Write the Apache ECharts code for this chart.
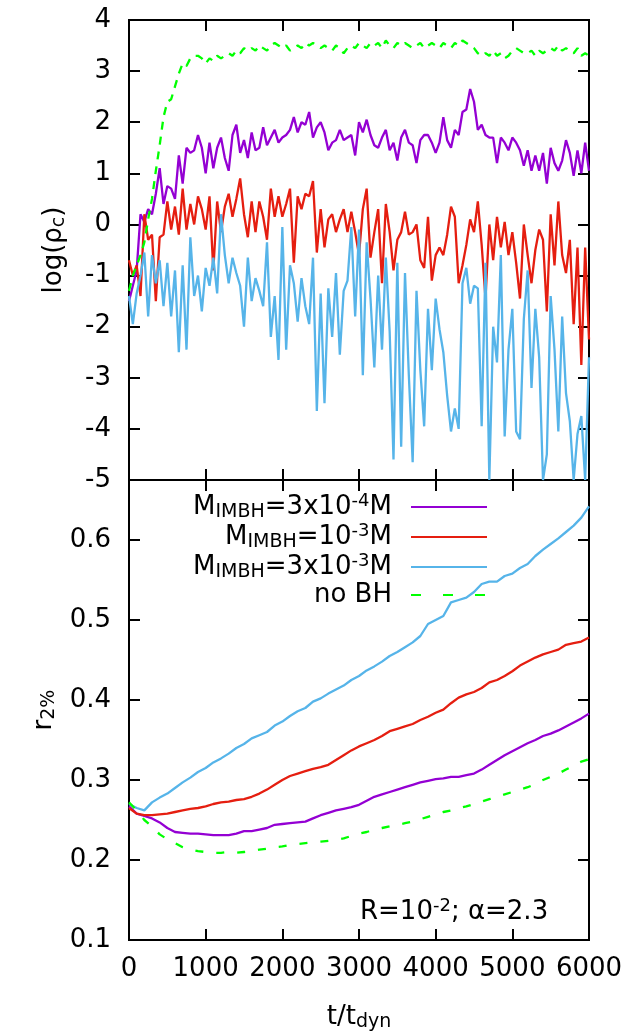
<!DOCTYPE html>
<html>
<head>
<meta charset="utf-8">
<script src="https://cdn.jsdelivr.net/npm/echarts@6/dist/echarts.min.js"></script>
<style>
  html, body { margin: 0; padding: 0; background: #fff; }
  #chart { width: 629px; height: 1033px; }
</style>
</head>
<body>
<div id="chart"></div>
<script>
// time samples (t / t_dyn)
const tTop = [
  0, 50, 100, 150, 200, 250, 300, 350, 400, 450,
  500, 550, 600, 650, 700, 750, 800, 850, 900, 950,
  1000, 1050, 1100, 1150, 1200, 1250, 1300, 1350, 1400, 1450,
  1500, 1550, 1600, 1650, 1700, 1750, 1800, 1850, 1900, 1950,
  2000, 2050, 2100, 2150, 2200, 2250, 2300, 2350, 2400, 2450,
  2500, 2550, 2600, 2650, 2700, 2750, 2800, 2850, 2900, 2950,
  3000, 3050, 3100, 3150, 3200, 3250, 3300, 3350, 3400, 3450,
  3500, 3550, 3600, 3650, 3700, 3750, 3800, 3850, 3900, 3950,
  4000, 4050, 4100, 4150, 4200, 4250, 4300, 4350, 4400, 4450,
  4500, 4550, 4600, 4650, 4700, 4750, 4800, 4850, 4900, 4950,
  5000, 5050, 5100, 5150, 5200, 5250, 5300, 5350, 5400, 5450,
  5500, 5550, 5600, 5650, 5700, 5750, 5800, 5850, 5900, 5950,
  6000
];
const tBot = [
  0, 100, 200, 300, 400, 500, 600, 700, 800, 900,
  1000, 1100, 1200, 1300, 1400, 1500, 1600, 1700, 1800, 1900,
  2000, 2100, 2200, 2300, 2400, 2500, 2600, 2700, 2800, 2900,
  3000, 3100, 3200, 3300, 3400, 3500, 3600, 3700, 3800, 3900,
  4000, 4100, 4200, 4300, 4400, 4500, 4600, 4700, 4800, 4900,
  5000, 5100, 5200, 5300, 5400, 5500, 5600, 5700, 5800, 5900,
  6000
];

// log(rho_c), top panel
const rhoM3e4 = [
  -1.5, -1.2, -0.9, 0.2, 0.05, 0.3, 0.2, 0.6, 1.1, 0.4,
  0.75, 0.7, 0.5, 1.35, 0.8, 1.5, 1.4, 1.45, 1.75, 1.5,
  1.0, 1.6, 1.1, 1.5, 1.7, 1.3, 1.05, 1.75, 1.95, 1.4,
  1.65, 1.3, 1.8, 1.45, 1.5, 1.9, 1.55, 1.7, 1.85, 1.6,
  1.7, 1.75, 1.85, 2.1, 1.8, 2.0, 1.95, 2.2, 1.7, 1.9,
  2.0, 1.8, 1.45, 1.6, 1.65, 1.85, 1.65, 1.7, 1.75, 1.35,
  2.0, 1.8, 2.05, 1.75, 1.55, 1.5, 1.7, 1.85, 1.45, 1.6,
  1.25, 1.7, 1.85, 1.6, 1.55, 1.2, 1.65, 1.75, 1.75, 1.6,
  1.4, 1.6, 2.1, 1.65, 1.5, 1.85, 1.75, 2.2, 2.25, 2.65,
  2.4, 1.85, 1.95, 1.75, 1.7, 1.7, 1.2, 1.7, 1.6, 1.45,
  1.7, 1.6, 1.45, 1.15, 1.45, 1.05, 1.35, 1.05, 1.4, 0.8,
  1.5, 1.2, 1.05, 1.25, 1.65, 1.4, 0.95, 1.45, 1.0, 1.6,
  1.05
];
const rhoM1e3 = [
  -0.7, -1.0, -0.8, -1.4, 0.2, -0.3, -0.2, -1.5, -0.25, -0.2,
  0.45, -0.1, 0.35, -0.2, 0.7, -0.1, 0.4, 0.0, 0.55, 0.3,
  -0.1, 0.55, -0.9, 0.45, -0.15, 0.35, 0.6, 0.15, 0.5, 0.9,
  0.2, -0.25, 0.45, -0.15, 0.45, 0.15, -0.3, 0.7, 0.15, 0.55,
  0.15, 0.4, 0.7, -0.75, 0.55, 0.3, 0.6, 0.55, 0.85, -0.55,
  0.3, -0.45, 0.1, 0.2, -0.15, 0.1, 0.3, -0.15, 0.25, -0.15,
  -0.6, 0.3, 0.7, -0.65, -0.15, 0.3, -1.15, 0.4, -0.15, -0.9,
  -0.3, -0.15, 0.25, -0.2, -0.15, 0.0, -0.7, -0.85, 0.15, -1.1,
  -0.6, -0.45, -0.6, -0.2, 0.35, 0.15, -1.15, -0.8, -0.4, 0.1,
  -0.15, 0.45, -0.4, -1.45, 0.0, -0.7, 0.15, -0.45, 0.05, -0.6,
  -0.15, -0.75, -1.45, 0.0, -0.6, -1.15, -0.5, -0.1, -0.3, -1.7,
  0.2, -0.8, 0.45, -0.6, -0.95, -0.3, -1.95, -0.45, -2.75, -0.45,
  -2.25
];
const rhoM3e3 = [
  -1.4, -1.95, -1.35, -1.0, -0.55, -1.8, -0.6, -1.15, -0.7, -1.6,
  -0.75, -1.8, -0.9, -2.5, -0.8, -2.45, -0.25, -1.4, -1.0, -1.7,
  -0.85, -1.2, -0.65, -1.35, 0.2, -0.6, -1.15, -0.65, -0.95, -1.2,
  -2.0, -0.65, -1.5, -1.05, -1.3, -1.6, -0.35, -2.2, -1.4, -2.65,
  -0.05, -2.45, -0.8, -1.15, -1.9, -1.05, -1.6, -1.95, -0.65, -3.65,
  -1.35, -3.5, -1.25, -2.2, -0.95, -2.55, -1.3, -1.1, -0.05, -1.8,
  -0.1, -2.95, -0.35, -1.45, -2.8, -1.0, -2.45, -0.65, -2.1, -4.6,
  -0.75, -4.35, -0.95, -2.95, -4.65, -1.3, -2.85, -3.95, -1.65, -2.85,
  -1.45, -2.05, -2.5, -3.35, -4.05, -3.6, -4.0, -1.15, -0.85, -1.55,
  -1.2, -1.25, -3.95, -0.75, -5.0, -2.0, -2.7, -0.6, -4.15, -2.45,
  -1.65, -4.05, -4.2, -1.85, -0.9, -3.2, -1.65, -2.6, -5.0, -4.5,
  -1.4, -2.45, -4.05, -1.8, -3.3, -3.85, -5.0, -4.1, -3.75, -5.0,
  -2.6
];
const rhoNoBH = [
  -1.3, -1.0, -0.8, -0.6, -0.35, 0.1, 0.5, 1.05, 1.55, 2.1,
  2.4, 2.45, 2.7, 2.95, 3.15, 3.1, 3.25, 3.3, 3.3, 3.25,
  3.15, 3.25, 3.2, 3.3, 3.25, 3.3, 3.35, 3.3, 3.4, 3.35,
  3.45, 3.4, 3.45, 3.4, 3.5, 3.45, 3.4, 3.5, 3.55, 3.5,
  3.45, 3.5, 3.4, 3.45, 3.5, 3.45, 3.55, 3.5, 3.55, 3.5,
  3.45, 3.5, 3.45, 3.4, 3.5, 3.45, 3.35, 3.45, 3.5, 3.45,
  3.55, 3.5, 3.45, 3.55, 3.5, 3.55, 3.45, 3.6, 3.5, 3.45,
  3.55, 3.5, 3.55, 3.5, 3.45, 3.5, 3.55, 3.45, 3.5, 3.55,
  3.5, 3.45, 3.55, 3.5, 3.45, 3.55, 3.5, 3.6, 3.55, 3.5,
  3.45, 3.35, 3.3, 3.35, 3.3, 3.4, 3.3, 3.35, 3.25, 3.3,
  3.4, 3.45, 3.4, 3.35, 3.35, 3.4, 3.3, 3.4, 3.35, 3.4,
  3.45, 3.4, 3.5, 3.4, 3.45, 3.4, 3.35, 3.45, 3.3, 3.35,
  3.3
];

// r_2%, bottom panel
const r2M3e4 = [
  0.267, 0.258, 0.255, 0.252, 0.247, 0.240, 0.235, 0.234, 0.233, 0.233,
  0.232, 0.231, 0.231, 0.231, 0.233, 0.236, 0.236, 0.238, 0.240, 0.244,
  0.245, 0.246, 0.247, 0.248, 0.252, 0.256, 0.259, 0.262, 0.264, 0.266,
  0.269, 0.274, 0.279, 0.282, 0.285, 0.288, 0.291, 0.294, 0.297, 0.299,
  0.301, 0.302, 0.304, 0.304, 0.306, 0.308, 0.313, 0.319, 0.325, 0.331,
  0.336, 0.341, 0.346, 0.350, 0.355, 0.358, 0.362, 0.367, 0.372, 0.377,
  0.383
];
const r2M1e3 = [
  0.265, 0.258, 0.256, 0.256, 0.257, 0.258, 0.260, 0.262, 0.264, 0.265,
  0.267, 0.270, 0.272, 0.273, 0.275, 0.276, 0.279, 0.283, 0.288, 0.294,
  0.300, 0.305, 0.308, 0.311, 0.314, 0.316, 0.319, 0.325, 0.331, 0.337,
  0.342, 0.346, 0.350, 0.355, 0.361, 0.364, 0.367, 0.370, 0.375, 0.379,
  0.384, 0.388, 0.396, 0.403, 0.407, 0.410, 0.415, 0.422, 0.425, 0.430,
  0.436, 0.443, 0.448, 0.453, 0.457, 0.460, 0.463, 0.469, 0.471, 0.473,
  0.478
];
const r2M3e3 = [
  0.270, 0.265, 0.262, 0.272, 0.278, 0.283, 0.290, 0.297, 0.303, 0.310,
  0.315, 0.322, 0.327, 0.333, 0.340, 0.345, 0.352, 0.356, 0.360, 0.368,
  0.373, 0.380, 0.386, 0.390, 0.398, 0.402, 0.408, 0.413, 0.418, 0.425,
  0.430, 0.437, 0.442, 0.448, 0.455, 0.460, 0.466, 0.472, 0.480, 0.495,
  0.500, 0.505, 0.522, 0.525, 0.528, 0.535, 0.545, 0.548, 0.548, 0.555,
  0.558, 0.565, 0.570, 0.580, 0.588, 0.595, 0.602, 0.610, 0.618, 0.628,
  0.642
];
const r2NoBH = [
  0.272, 0.262, 0.250, 0.242, 0.232, 0.226, 0.221, 0.216, 0.213, 0.211,
  0.210, 0.209, 0.209, 0.210, 0.209, 0.210, 0.211, 0.213, 0.214, 0.216,
  0.217, 0.219, 0.220, 0.221, 0.222, 0.223, 0.224, 0.225, 0.227, 0.230,
  0.233, 0.235, 0.238, 0.240, 0.242, 0.244, 0.246, 0.248, 0.251, 0.254,
  0.257, 0.260, 0.262, 0.265, 0.267, 0.270, 0.273, 0.276, 0.279, 0.282,
  0.285, 0.288, 0.291, 0.295, 0.300, 0.304, 0.308, 0.313, 0.318, 0.323,
  0.326
];

const names = ['m3e4', 'm1e3', 'm3e3', 'nobh'];
const legendLabels = {
  m3e4: '{n|M}{s|IMBH}{n|=3x10}{p|-4}{n|M}{g| }',
  m1e3: '{n|M}{s|IMBH}{n|=10}{p|-3}{n|M}{g| }',
  m3e3: '{n|M}{s|IMBH}{n|=3x10}{p|-3}{n|M}{g| }',
  nobh: '{n|no BH}{g| }'
};
const colors = { m3e4: '#9400d3', m1e3: '#e51e10', m3e3: '#56b4e9', nobh: '#00ff00' };

const FONT = "'DejaVu Sans', sans-serif";
const FS = 26;
const rich = {
  n: { fontFamily: FONT, fontSize: FS, lineHeight: 30, color: '#000' },
  s: { fontFamily: FONT, fontSize: 19, lineHeight: 15, verticalAlign: 'bottom', color: '#000' },
  p: { fontFamily: FONT, fontSize: 18, lineHeight: 15, verticalAlign: 'top', color: '#000' },
  g: { fontFamily: FONT, fontSize: 16, width: 14 }
};

const pairs = (ts, vs) => ts.map((t, i) => [t, vs[i]]);

const tickStyle = { show: true, inside: true, length: 11, lineStyle: { color: '#000', width: 2 } };
const xBase = (grid, pos, labels) => ({
  type: 'value', gridIndex: grid, position: pos, min: 0, max: 6000, interval: 1000,
  axisLine: { show: false, onZero: false }, splitLine: { show: false }, axisTick: tickStyle,
  axisLabel: labels
    ? { show: true, fontFamily: FONT, fontSize: FS, color: '#000', margin: 16, formatter: v => String(v) }
    : { show: false }
});
const yBase = (grid, pos, min, max, step, labels) => ({
  type: 'value', gridIndex: grid, position: pos, min: min, max: max, interval: step,
  axisLine: { show: false, onZero: false }, splitLine: { show: false }, axisTick: tickStyle,
  axisLabel: labels
    ? { show: true, fontFamily: FONT, fontSize: FS, color: '#000', margin: 18, showMaxLabel: max === 4 }
    : { show: false }
});

const topData = [rhoM3e4, rhoM1e3, rhoM3e3, rhoNoBH];
const botData = [r2M3e4, r2M1e3, r2M3e3, r2NoBH];
const series = [];
names.forEach((nm, i) => {
  const dashed = nm === 'nobh';
  series.push({
    name: nm, type: 'line', xAxisIndex: 0, yAxisIndex: 0,
    data: pairs(tTop, topData[i]), symbol: 'none', clip: true,
    lineStyle: { color: colors[nm], width: 2.3, type: dashed ? [8, 7] : 'solid' },
    itemStyle: { color: colors[nm] }
  });
  series.push({
    name: nm, type: 'line', xAxisIndex: 2, yAxisIndex: 2,
    data: pairs(tBot, botData[i]), symbol: 'none', clip: true,
    lineStyle: { color: colors[nm], width: 2.3, type: dashed ? [8, 13] : 'solid' },
    itemStyle: { color: colors[nm] }
  });
});

const chart = echarts.init(document.getElementById('chart'));
chart.setOption({
  animation: false,
  backgroundColor: '#fff',
  grid: [
    { left: 129, top: 20, width: 460, height: 460, show: true, borderColor: '#000', borderWidth: 2, backgroundColor: 'transparent' },
    { left: 129, top: 480, width: 460, height: 460, show: true, borderColor: '#000', borderWidth: 2, backgroundColor: 'transparent' }
  ],
  xAxis: [
    xBase(0, 'bottom', false),
    xBase(0, 'top', false),
    Object.assign(xBase(1, 'bottom', true), {
      name: '{n|t/t}{s|dyn}', nameLocation: 'middle', nameGap: 62,
      nameTextStyle: { rich: rich }
    }),
    xBase(1, 'top', false)
  ],
  yAxis: [
    Object.assign(yBase(0, 'left', -5, 4, 1, true), {
      name: '{n|log(ρ}{s|c}{n|)}', nameLocation: 'middle', nameGap: 60,
      nameTextStyle: { rich: rich }
    }),
    yBase(0, 'right', -5, 4, 1, false),
    Object.assign(yBase(1, 'left', 0.1, 0.675, 0.1, true), {
      name: '{n|r}{s|2%}', nameLocation: 'middle', nameGap: 63,
      nameTextStyle: { rich: rich }
    }),
    yBase(1, 'right', 0.1, 0.675, 0.1, false)
  ],
  legend: {
    orient: 'vertical', align: 'right', right: 141, top: 492, padding: 0, itemGap: 0,
    itemWidth: 76, itemHeight: 14, selectedMode: false,
    itemStyle: { opacity: 0 },
    data: [
      { name: 'm3e4' }, { name: 'm1e3' }, { name: 'm3e3' },
      { name: 'nobh', lineStyle: { type: [10, 22] } }
    ],
    formatter: nm => legendLabels[nm],
    textStyle: { fontFamily: FONT, fontSize: FS, color: '#000', rich: rich }
  },
  graphic: [{
    type: 'text', left: 360, top: 897, z: 10,
    style: { text: '{n|R=10}{p|-2}{n|; α=2.3}', rich: rich, fill: '#000' }
  }],
  series: series
});
</script>
</body>
</html>
